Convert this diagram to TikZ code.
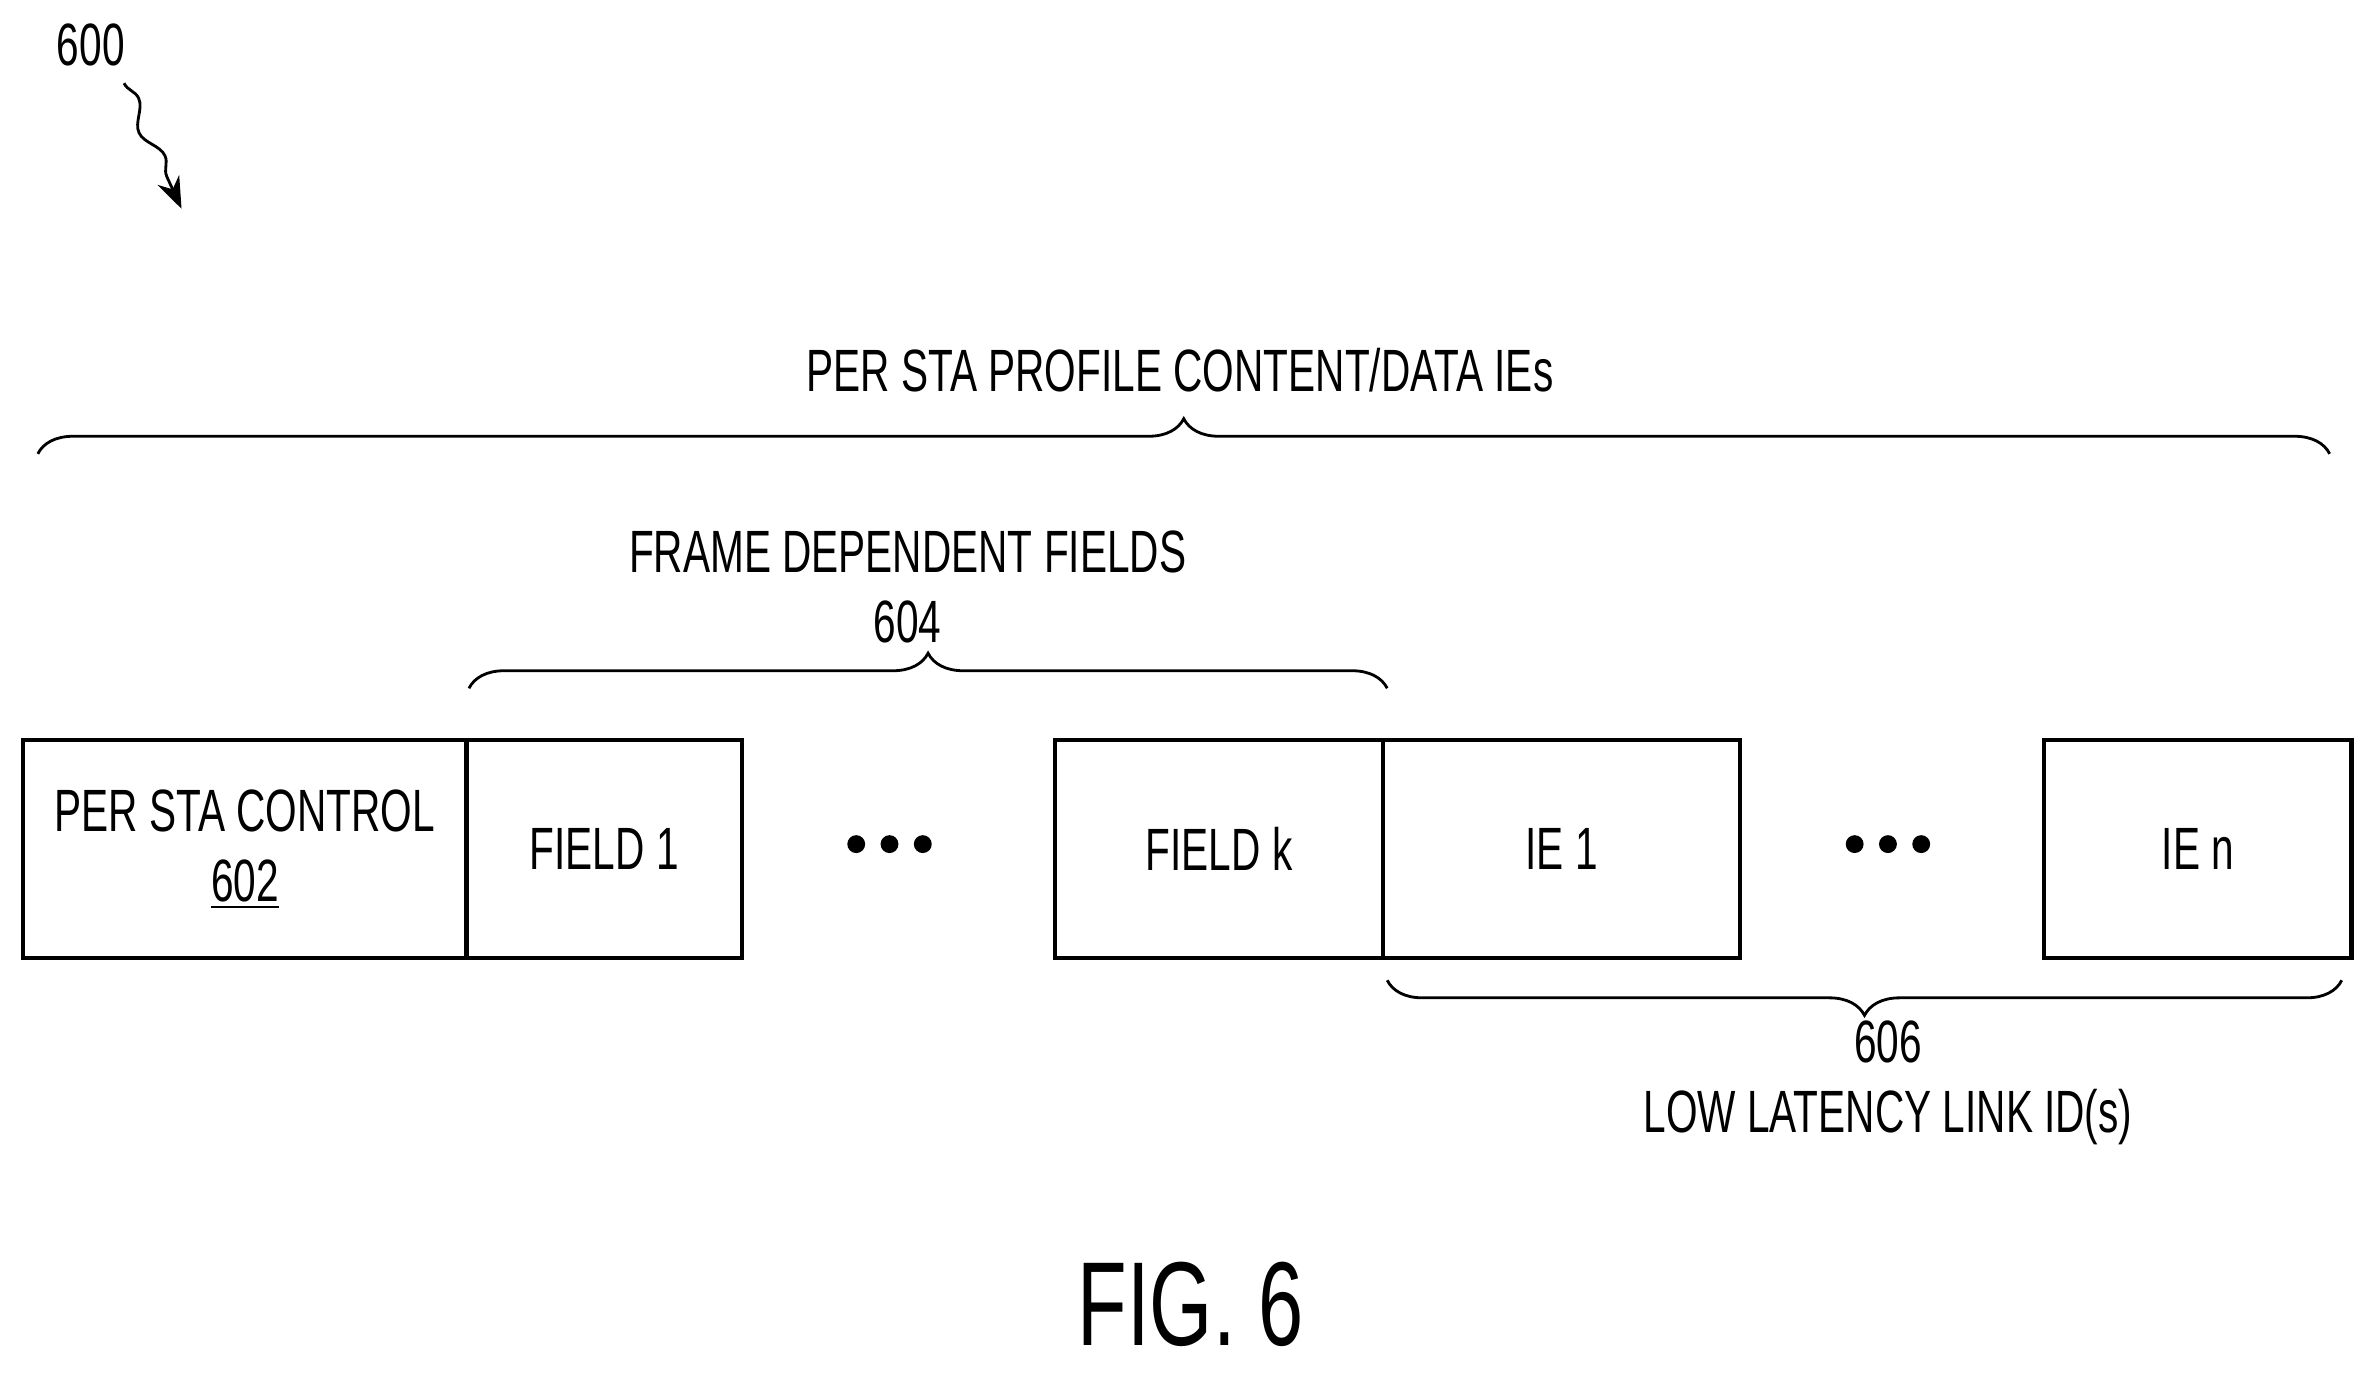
\documentclass[tikz,border=0pt]{standalone}
\usepackage{fontspec}
\setmainfont{Liberation Sans}[FakeStretch=0.68]
\usetikzlibrary{decorations.pathreplacing,decorations.pathmorphing,arrows.meta}
\begin{document}
\begin{tikzpicture}[x=0.01513cm,y=-0.01513cm,
                    every node/.style={font=\fontsize{17}{20}\selectfont},
                    field/.style={draw,line width=1.2pt,inner sep=0pt,anchor=north west},
                    mybrace/.style={decorate,decoration={brace,amplitude=10pt},line width=0.8pt},
                    dot/.style={circle,fill,inner sep=1.8pt}]
\useasboundingbox (0,0) rectangle (1568,912);
\node (ref) at (60,30) {600};
\coordinate (tip) at (120,138);
\draw[decorate,decoration={snake,amplitude=2pt,segment length=18pt,post length=6pt},-{Stealth[length=9pt]},line width=0.8pt] (82,55) -- (tip);
% fields
\node[field,minimum width=293*0.01513cm,minimum height=144*0.01513cm,align=center] (ctrl) at (14,488) {PER STA CONTROL\\\underline{602}};
\node[field,minimum width=182*0.01513cm,minimum height=144*0.01513cm] (f1) at (307,488) {FIELD 1};
\node[field,minimum width=217*0.01513cm,minimum height=144*0.01513cm] (fk) at (696,488) {FIELD k};
\node[field,minimum width=236*0.01513cm,minimum height=144*0.01513cm] (ie1) at (913,488) {IE 1};
\node[field,minimum width=203*0.01513cm,minimum height=144*0.01513cm] (ien) at (1350,488) {IE n};
\foreach \x in {-22,0,22} {
  \node[dot] at (588+\x,558) {};
  \node[dot] at (1248+\x,558) {};
}
% braces
\draw[mybrace] (25,300) -- (1540,300);
\node (all) at (780,245) {PER STA PROFILE CONTENT/DATA IEs};
\draw[mybrace] (310,455) -- (917,455);
\node[align=center] (frame) at (600,388) {FRAME DEPENDENT FIELDS\\604};
\draw[mybrace] (1548,648) -- (917,648);
\node[align=center] (ll) at (1248,716) {606\\LOW LATENCY LINK ID(s)};
\node[font=\fontsize{34}{36}\selectfont] (fig) at (787,862) {FIG. 6};
\end{tikzpicture}
\end{document}
